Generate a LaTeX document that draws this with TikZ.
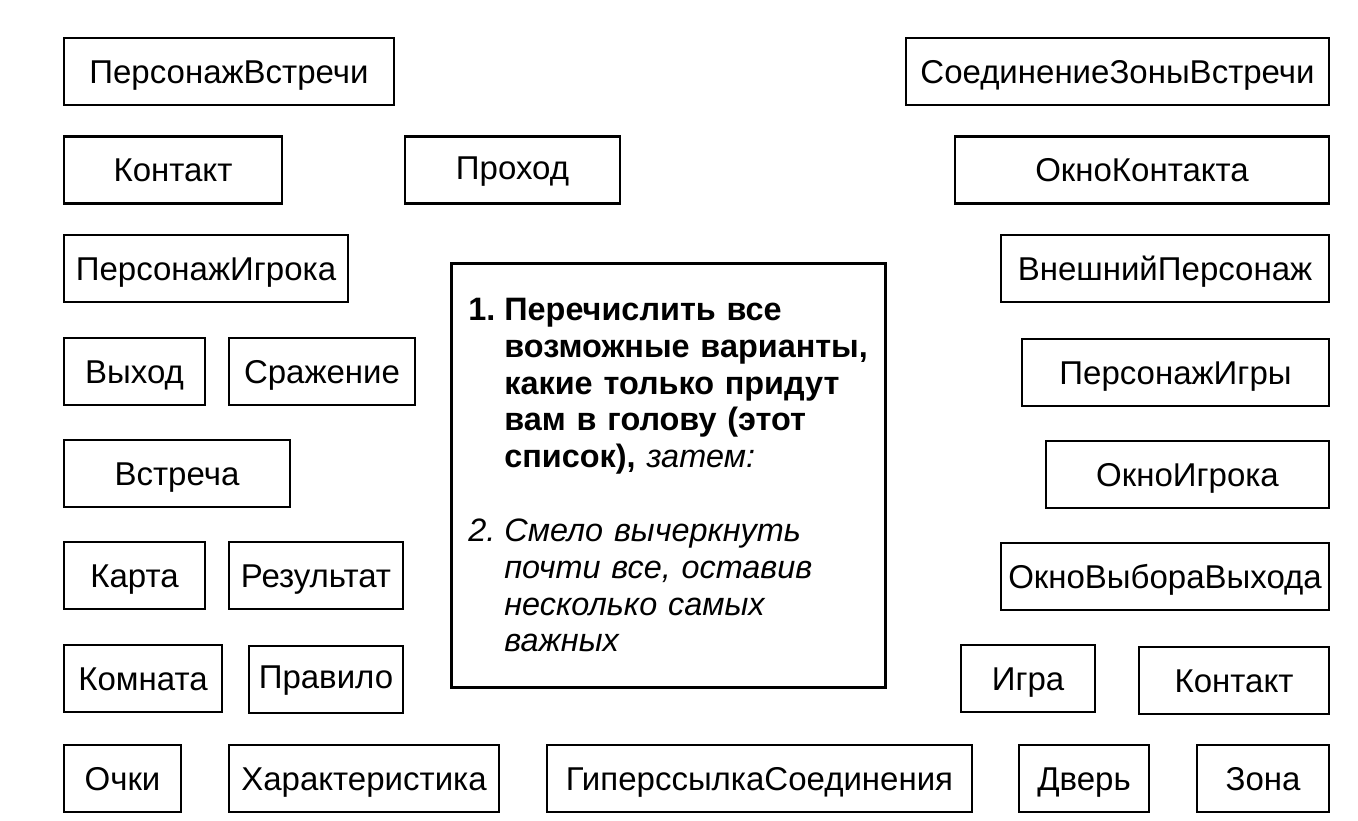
\documentclass[tikz,border=0pt]{standalone}
\usepackage{fontspec}
\setmainfont{Liberation Sans}
\usepackage{tikz}
\usetikzlibrary{positioning}
\tikzstyle{box} = [draw, line width=1.4pt, minimum height=33.5pt, inner sep=0pt, text height=11.8pt, text depth=0pt, font=\fontsize{16.5}{19}\selectfont]
\tikzstyle{note} = [draw, line width=1.4pt, anchor=north west, minimum width=217pt, minimum height=212pt, inner xsep=8.5pt, text width=200pt, align=left, font=\fontsize{16.2}{18.3}\selectfont]

\begin{document}
\begin{tikzpicture}[x=0.5pt, y=-0.5pt]
        \useasboundingbox (0,0) rectangle (1358,820);
        % left column
        \node[box, minimum width=165pt] (persVstr) at (229,71.5) {ПерсонажВстречи};
        \node[box, minimum width=109pt] (kontakt1) at (173,170) {Контакт};
        \node[box, minimum width=107.5pt] (prohod) at (512.5,170) {\raisebox{1pt}{Проход}};
        \node[box, minimum width=142pt] (persIgr) at (206,268.5) {ПерсонажИгрока};
        \node[box, minimum width=70.5pt] (vyhod) at (134.5,371.5) {Выход};
        \node[box, minimum width=93pt] (srazh) at (322,371.5) {Сражение};
        \node[box, minimum width=113pt] (vstr) at (177,473.5) {Встреча};
        \node[box, minimum width=70.5pt] (karta) at (134.5,575.5) {Карта};
        \node[box, minimum width=87pt] (rezult) at (316,575.5) {Результат};
        \node[box, minimum width=79pt] (komn) at (143,678.5) {Комната};
        \node[box, minimum width=77pt] (pravilo) at (326,679.5) {\raisebox{1.5pt}{Правило}};
        % bottom row
        \node[box, minimum width=58.5pt] (ochki) at (122.5,778.5) {Очки};
        \node[box, minimum width=135pt] (harakt) at (364,778.5) {Характеристика};
        \node[box, minimum width=212.5pt] (giper) at (759.5,778.5) {ГиперссылкаСоединения};
        \node[box, minimum width=65pt] (dver) at (1084,778.5) {Дверь};
        \node[box, minimum width=66pt] (zona) at (1263,778.5) {Зона};
        % right column
        \node[box, minimum width=211.5pt] (soedZon) at (1117.5,71.5) {СоединениеЗоныВстречи};
        \node[box, minimum width=187pt] (oknoKont) at (1142,170) {ОкноКонтакта};
        \node[box, minimum width=164pt] (vneshPers) at (1165,268.5) {ВнешнийПерсонаж};
        \node[box, minimum width=153.5pt] (persIgry) at (1175.5,372.5) {ПерсонажИгры};
        \node[box, minimum width=141.5pt] (oknoIgr) at (1187.5,474.5) {ОкноИгрока};
        \node[box, minimum width=164pt] (oknoVyb) at (1165,576.5) {ОкноВыбораВыхода};
        \node[box, minimum width=67pt] (igra) at (1028,678.5) {Игра};
        \node[box, minimum width=95pt] (kontakt2) at (1234,680.5) {Контакт};
        % central note
        \node[note] (spisok) at (450,262) {%
          \textbf{\makebox[18pt][l]{1.}Перечислить все}\\
          \textbf{\hspace*{18pt}возможные варианты,}\\
          \textbf{\hspace*{18pt}какие только придут}\\
          \textbf{\hspace*{18pt}вам в голову (этот}\\
          \hspace*{18pt}\textbf{список),} \textit{затем:}\\[19pt]
          \textit{\makebox[18pt][l]{2.}Смело вычеркнуть}\\
          \textit{\hspace*{18pt}почти все, оставив}\\
          \textit{\hspace*{18pt}несколько самых}\\
          \textit{\hspace*{18pt}важных}};
      \end{tikzpicture}
\end{document}
